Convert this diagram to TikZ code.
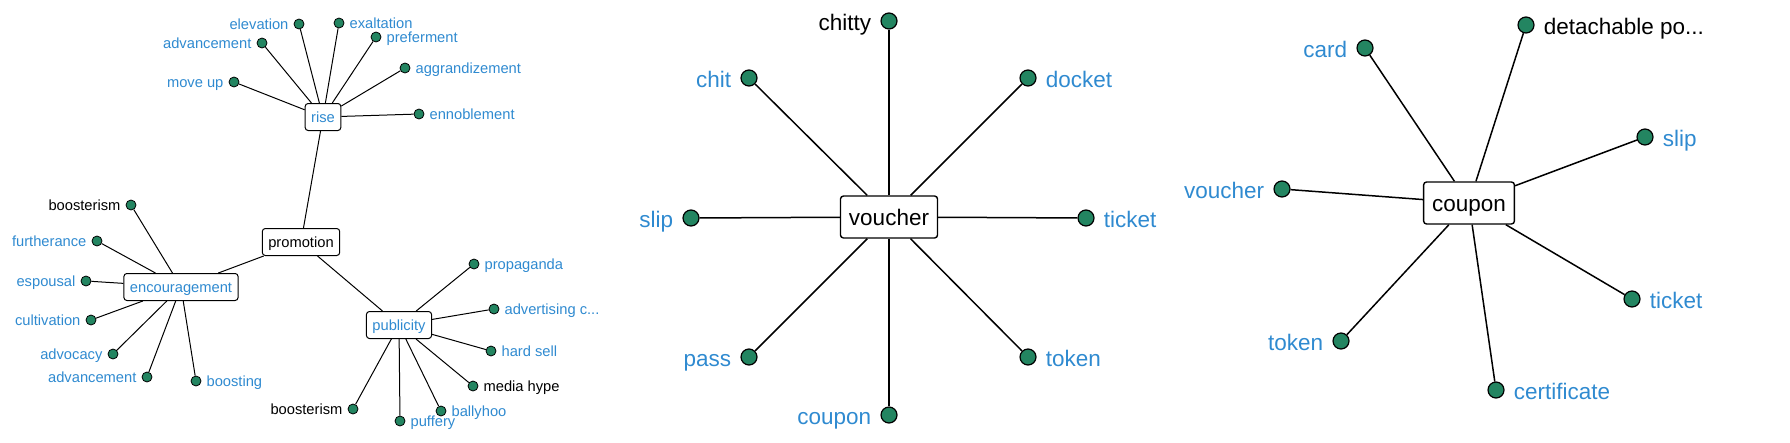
\documentclass[tikz,border=0pt]{standalone}
\usepackage{fontspec}
\setmainfont{Liberation Sans}
\usepackage{tikz}
\definecolor{wordblue}{RGB}{47,138,208}
\definecolor{wordgreen}{RGB}{35,133,97}
\newcommand*{\smallword}{\fontsize{14.7}{17}\selectfont}
\newcommand*{\bigword}{\fontsize{22.5}{26}\selectfont}
\newcommand*{\cutoff}{...}

\begin{document}
\begin{tikzpicture}[x=1pt, y=-1pt]
  \useasboundingbox (0,0) rectangle (1790,442);
  \tikzstyle{hub}=[draw, fill=white, rounded corners=3pt, line width=1pt, font=\smallword,
    text height=10.5pt, text depth=0pt, inner xsep=6pt, minimum height=27pt]
  \tikzstyle{bighub}=[hub, line width=1.4pt, font=\bigword, text height=17pt,
    inner xsep=8.5pt, minimum height=42pt]
  \tikzstyle{leaf}=[circle, draw, fill=wordgreen, line width=0.8pt, minimum size=10pt, inner sep=0pt]
  \tikzstyle{bigleaf}=[leaf, line width=1.2pt, minimum size=16pt]
  \tikzstyle{word}=[inner xsep=5pt, inner ysep=0pt, font=\smallword, text height=10.5pt, text depth=0pt]
  \tikzstyle{bigword}=[word, inner xsep=9pt, font=\bigword, text height=18pt]
  \tikzstyle{edge}=[line width=1pt]
  \tikzstyle{bigedge}=[line width=1.5pt]

  {\tikzstyle{every node}=[hub]
    \node (promotion) at (301,242) {promotion};
    \node[text=wordblue] (rise) at (323,117) {rise};
    \node[text=wordblue] (encouragement) at (181,287) {encouragement};
    \node[text=wordblue] (publicity) at (399,325) {publicity};
  }

  \draw[edge]
    (promotion) -- (rise)
    (promotion) -- (encouragement)
    (promotion) -- (publicity);

  \foreach \n/\x/\y/\side/\col/\w in {
      r1/299/24/left/wordblue/elevation, r2/339/23/right/wordblue/exaltation,
      r3/262/43/left/wordblue/advancement, r4/376/37/right/wordblue/preferment,
      r5/405/68/right/wordblue/aggrandizement, r6/234/82/left/wordblue/move up,
      r7/419/114/right/wordblue/ennoblement}
  {
    \node[leaf, label={[word, text=\col]\side:\w}] (\n) at (\x,\y) {};
    \draw[edge] (rise) -- (\n);
  }

  \foreach \n/\x/\y/\side/\col/\w in {
      e1/131/205/left/black/boosterism, e2/97/241/left/wordblue/furtherance,
      e3/86/281/left/wordblue/espousal, e4/91/320/left/wordblue/cultivation,
      e5/113/354/left/wordblue/advocacy, e6/147/377/left/wordblue/advancement,
      e7/196/381/right/wordblue/boosting}
  {
    \node[leaf, label={[word, text=\col]\side:\w}] (\n) at (\x,\y) {};
    \draw[edge] (encouragement) -- (\n);
  }

  \foreach \n/\x/\y/\side/\col/\w in {
      p1/474/264/right/wordblue/propaganda, p2/494/309/right/wordblue/advertising c\cutoff,
      p3/491/351/right/wordblue/hard sell, p4/473/386/right/black/media hype,
      p5/353/409/left/black/boosterism, p6/400/421/right/wordblue/puffery,
      p7/441/411/right/wordblue/ballyhoo}
  {
    \node[leaf, label={[word, text=\col]\side:\w}] (\n) at (\x,\y) {};
    \draw[edge] (publicity) -- (\n);
  }

  \node[bighub] (voucher) at (889,217) {voucher};

  \foreach \n/\x/\y/\side/\col/\w in {
      v1/889/21/left/black/chitty, v2/749/78/left/wordblue/chit,
      v3/1028/78/right/wordblue/docket, v4/691/218/left/wordblue/slip,
      v5/1086/218/right/wordblue/ticket, v6/749/357/left/wordblue/pass,
      v7/1028/357/right/wordblue/token, v8/889/415/left/wordblue/coupon}
  {
    \node[bigleaf, label={[bigword, text=\col]\side:\w}] (\n) at (\x,\y) {};
    \draw[bigedge] (voucher) -- (\n);
  }

  \node[bighub] (coupon) at (1469,203) {coupon};

  \foreach \n/\x/\y/\side/\col/\w in {
      c1/1526/25/right/black/detachable po\cutoff, c2/1365/48/left/wordblue/card,
      c3/1645/137/right/wordblue/slip, c4/1282/189/left/wordblue/voucher,
      c5/1632/299/right/wordblue/ticket, c6/1341/341/left/wordblue/token,
      c7/1496/390/right/wordblue/certificate}
  {
    \node[bigleaf, label={[bigword, text=\col]\side:\w}] (\n) at (\x,\y) {};
    \draw[bigedge] (coupon) -- (\n);
  }
\end{tikzpicture}
\end{document}
